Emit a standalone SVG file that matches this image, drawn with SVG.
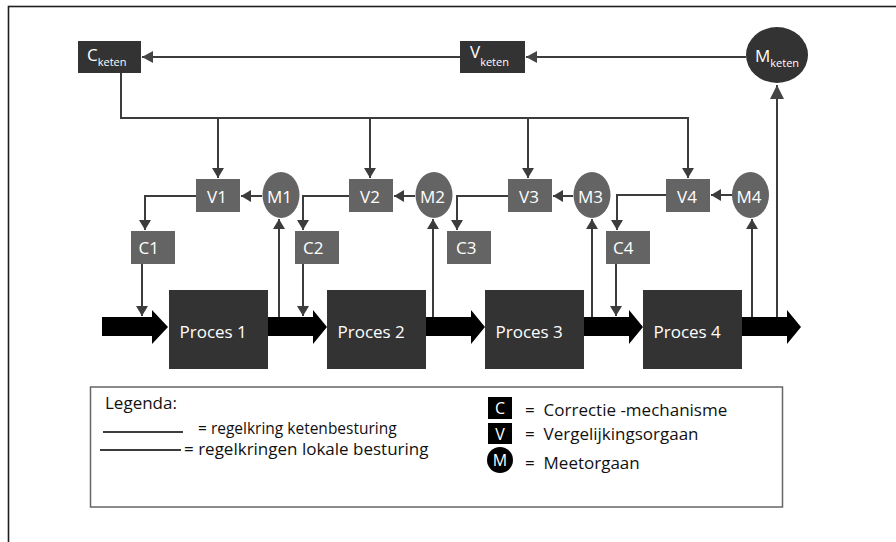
<svg xmlns="http://www.w3.org/2000/svg" width="896" height="542" viewBox="0 0 896 542">
<style>
.frame{fill:#fff;stroke:#1e1e1e;stroke-width:1.6}
.legbox{fill:#fff;stroke:#666;stroke-width:1.5}
.dark{fill:#333}
.mid{fill:#646464}
.blk{fill:#000}
.ln{fill:none;stroke:#3c3c3c;stroke-width:2}
.flow{fill:#000}
text{font-family:"Open Sans","Noto Sans","DejaVu Sans",sans-serif;fill:#fff}
.lbl{font-size:17px}
.sub{font-size:11px}
.leg{font-size:17px;fill:#111}
.leg1{font-size:15.5px;fill:#111}
.legw{font-size:16px;fill:#fff}
</style>
<defs>
<marker id="ah" viewBox="0 0 10 10" refX="10" refY="5" markerWidth="10" markerHeight="12" markerUnits="userSpaceOnUse" orient="auto" preserveAspectRatio="none"><path d="M0,0 L10,5 L0,10 z" fill="#3c3c3c"/></marker>
<marker id="ahk" viewBox="0 0 10 10" refX="10" refY="5" markerWidth="11" markerHeight="12" markerUnits="userSpaceOnUse" orient="auto" preserveAspectRatio="none"><path d="M0,0 L10,5 L0,10 z" fill="#444"/></marker>
<marker id="ahm" viewBox="0 0 10 10" refX="10" refY="5" markerWidth="14" markerHeight="14" markerUnits="userSpaceOnUse" orient="auto" preserveAspectRatio="none"><path d="M0,0 L10,5 L0,10 z" fill="#444"/></marker>
</defs>
<rect class="frame" x="8.5" y="6.5" width="900" height="545"/>

<g id="flow-arrows">
<path class="flow" d="M102,317 H152 V310 L168,327 L152,344 V336 H102 Z"/>
<path class="flow" d="M268,317 H313 V310 L327,327 L313,344 V336 H268 Z"/>
<path class="flow" d="M426,317 H471 V310 L485,327 L471,344 V336 H426 Z"/>
<path class="flow" d="M584,317 H629 V310 L643,327 L629,344 V336 H584 Z"/>
<path class="flow" d="M742,317 H787 V310 L801,327 L787,344 V336 H742 Z"/>
</g>

<g id="connectors">
<line class="ln" x1="746" y1="57" x2="526" y2="57" marker-end="url(#ahk)"/>
<line class="ln" x1="460" y1="57" x2="142" y2="57" marker-end="url(#ahk)"/>
<path class="ln" d="M121,73 V118 H688 V178" marker-end="url(#ah)"/>
<line class="ln" x1="218" y1="118" x2="218" y2="178" marker-end="url(#ah)"/>
<line class="ln" x1="370" y1="118" x2="370" y2="178" marker-end="url(#ah)"/>
<line class="ln" x1="528" y1="118" x2="528" y2="178" marker-end="url(#ah)"/>
<line class="ln" x1="777" y1="317" x2="777" y2="85" marker-end="url(#ahm)"/>

<line class="ln" x1="262" y1="196" x2="241" y2="196" marker-end="url(#ah)"/>
<path class="ln" d="M196,196 H145 V230" marker-end="url(#ah)"/>
<line class="ln" x1="142" y1="264" x2="142" y2="316" marker-end="url(#ah)"/>
<line class="ln" x1="279" y1="317" x2="279" y2="219" marker-end="url(#ah)"/>

<line class="ln" x1="415" y1="196" x2="394" y2="196" marker-end="url(#ah)"/>
<path class="ln" d="M349,196 H303 V230" marker-end="url(#ah)"/>
<line class="ln" x1="303" y1="264" x2="303" y2="316" marker-end="url(#ah)"/>
<line class="ln" x1="433" y1="317" x2="433" y2="219" marker-end="url(#ah)"/>

<line class="ln" x1="573" y1="196" x2="553" y2="196" marker-end="url(#ah)"/>
<path class="ln" d="M508,196 H457 V230" marker-end="url(#ah)"/>
<line class="ln" x1="592" y1="317" x2="592" y2="219" marker-end="url(#ah)"/>

<line class="ln" x1="732" y1="195" x2="711" y2="195" marker-end="url(#ah)"/>
<path class="ln" d="M666,195 H617 V230" marker-end="url(#ah)"/>
<line class="ln" x1="616" y1="264" x2="616" y2="316" marker-end="url(#ah)"/>
<line class="ln" x1="752" y1="317" x2="752" y2="219" marker-end="url(#ah)"/>
</g>

<g id="C_keten"><rect class="dark" x="78" y="41" width="63" height="32"/><text class="lbl" x="87" y="61">C<tspan class="sub" dy="5">keten</tspan></text></g>
<g id="V_keten"><rect class="dark" x="460" y="41" width="65" height="32"/><text class="lbl" x="470" y="58">V<tspan class="sub" dy="8">keten</tspan></text></g>
<g id="M_keten"><ellipse class="dark" cx="777" cy="55" rx="31" ry="28"/><text class="lbl" x="755" y="62">M<tspan class="sub" dy="5">keten</tspan></text></g>

<g id="V1"><rect class="mid" x="196" y="179" width="44" height="33"/><text class="lbl" x="217" y="203" text-anchor="middle">V1</text></g>
<g id="M1"><ellipse class="mid" cx="281" cy="195" rx="18.5" ry="23"/><text class="lbl" x="279.5" y="203" text-anchor="middle">M1</text></g>
<g id="C1"><rect class="mid" x="131" y="231" width="44" height="33"/><text class="lbl" x="138.5" y="254">C1</text></g>
<g id="V2"><rect class="mid" x="349" y="179" width="44" height="33"/><text class="lbl" x="370" y="203" text-anchor="middle">V2</text></g>
<g id="M2"><ellipse class="mid" cx="434" cy="195" rx="18.5" ry="23"/><text class="lbl" x="432.5" y="203" text-anchor="middle">M2</text></g>
<g id="C2"><rect class="mid" x="295" y="231" width="44" height="33"/><text class="lbl" x="303" y="254">C2</text></g>
<g id="V3"><rect class="mid" x="508" y="179" width="44" height="33"/><text class="lbl" x="529" y="203" text-anchor="middle">V3</text></g>
<g id="M3"><ellipse class="mid" cx="592" cy="195" rx="18.5" ry="23"/><text class="lbl" x="590.5" y="203" text-anchor="middle">M3</text></g>
<g id="C3"><rect class="mid" x="447" y="231" width="44" height="33"/><text class="lbl" x="456" y="254">C3</text></g>
<g id="V4"><rect class="mid" x="666" y="179" width="44" height="33"/><text class="lbl" x="687" y="203" text-anchor="middle">V4</text></g>
<g id="M4"><ellipse class="mid" cx="750.5" cy="195" rx="18.5" ry="23"/><text class="lbl" x="749" y="203" text-anchor="middle">M4</text></g>
<g id="C4"><rect class="mid" x="606" y="231" width="44" height="33"/><text class="lbl" x="613" y="254">C4</text></g>

<g id="Proces1"><rect class="dark" x="169" y="290" width="99" height="79"/><text class="lbl" x="179.5" y="338">Proces 1</text></g>
<g id="Proces2"><rect class="dark" x="327" y="290" width="99" height="79"/><text class="lbl" x="337.5" y="338">Proces 2</text></g>
<g id="Proces3"><rect class="dark" x="485" y="290" width="99" height="79"/><text class="lbl" x="495.5" y="338">Proces 3</text></g>
<g id="Proces4"><rect class="dark" x="643" y="290" width="99" height="79"/><text class="lbl" x="653.5" y="338">Proces 4</text></g>

<g id="legend">
<rect class="legbox" x="90.5" y="387" width="692" height="120"/>
<text class="leg" x="105" y="409">Legenda:</text>
<line class="ln" x1="103" y1="432" x2="183" y2="432"/>
<text class="leg1" x="198" y="434">= regelkring ketenbesturing</text>
<line class="ln" x1="100" y1="450" x2="181" y2="450"/>
<text class="leg" x="184" y="455">= regelkringen lokale besturing</text>
<rect class="blk" x="488" y="397" width="24" height="22"/><text class="legw" x="500" y="414" text-anchor="middle">C</text>
<text class="leg" x="525" y="416" xml:space="preserve">=  Correctie -mechanisme</text>
<rect class="blk" x="488" y="423" width="24" height="21"/><text class="legw" x="500" y="440" text-anchor="middle">V</text>
<text class="leg" x="525" y="440" xml:space="preserve">=  Vergelijkingsorgaan</text>
<circle class="blk" cx="500" cy="460" r="13"/><text class="legw" x="500" y="466" text-anchor="middle">M</text>
<text class="leg" x="525" y="469" xml:space="preserve">=  Meetorgaan</text>
</g>
</svg>
